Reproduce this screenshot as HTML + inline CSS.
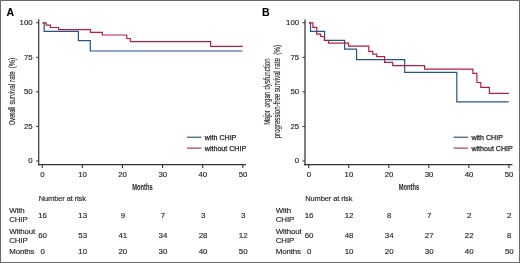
<!DOCTYPE html>
<html><head><meta charset="utf-8"><style>
html,body{margin:0;padding:0;background:#fff;}
svg{display:block;filter:blur(0.3px);}
text{font-family:"Liberation Sans",sans-serif;fill:#231f20;stroke:#231f20;stroke-width:0.15px;}
.tk{font-size:7.8px;}
.tb{font-size:7.9px;}
.tw{font-size:7.9px;letter-spacing:-0.12px;}
.lg{font-size:7.1px;stroke-width:0.25px;}
.ttl{font-size:9px;stroke-width:0.13px;}
.mo{font-size:9.6px;font-weight:bold;stroke-width:0.05px;}
.pl{font-size:10.5px;font-weight:bold;fill:#000;stroke:#000;stroke-width:0.1px;}
</style></head><body>
<svg width="520" height="263" viewBox="0 0 520 263">
<rect x="0.5" y="0.5" width="519" height="262" fill="#fff" stroke="#6a6a6a" stroke-width="1"/>
<text x="6.6" y="15.6" class="pl">A</text>
<text x="262.0" y="15.6" class="pl">B</text>
<path d="M38.7,19.2 V165.4" fill="none" stroke="#333333" stroke-width="1.2"/>
<path d="M38.1,164.7 H246" fill="none" stroke="#333333" stroke-width="1.2"/>
<path d="M36.1,22.75 H38.7" stroke="#333333" stroke-width="1"/>
<text x="32.60" y="25.25" class="tk" text-anchor="end">100</text>
<path d="M36.1,57.3 H38.7" stroke="#333333" stroke-width="1"/>
<text x="32.60" y="59.80" class="tk" text-anchor="end">75</text>
<path d="M36.1,91.85 H38.7" stroke="#333333" stroke-width="1"/>
<text x="32.60" y="94.35" class="tk" text-anchor="end">50</text>
<path d="M36.1,126.4 H38.7" stroke="#333333" stroke-width="1"/>
<text x="32.60" y="128.90" class="tk" text-anchor="end">25</text>
<path d="M36.1,160.95 H38.7" stroke="#333333" stroke-width="1"/>
<text x="32.60" y="163.45" class="tk" text-anchor="end">0</text>
<path d="M42.20,165 V167.9" stroke="#333333" stroke-width="1.1"/>
<text x="42.40" y="177.1" class="tk" text-anchor="middle">0</text>
<path d="M82.32,165 V167.9" stroke="#333333" stroke-width="1.1"/>
<text x="82.52" y="177.1" class="tk" text-anchor="middle">10</text>
<path d="M122.44,165 V167.9" stroke="#333333" stroke-width="1.1"/>
<text x="122.64" y="177.1" class="tk" text-anchor="middle">20</text>
<path d="M162.56,165 V167.9" stroke="#333333" stroke-width="1.1"/>
<text x="162.76" y="177.1" class="tk" text-anchor="middle">30</text>
<path d="M202.68,165 V167.9" stroke="#333333" stroke-width="1.1"/>
<text x="202.88" y="177.1" class="tk" text-anchor="middle">40</text>
<path d="M242.80,165 V167.9" stroke="#333333" stroke-width="1.1"/>
<text x="243.00" y="177.1" class="tk" text-anchor="middle">50</text>
<text x="142.5" y="189.6" class="mo" text-anchor="middle" textLength="20.4" lengthAdjust="spacingAndGlyphs">Months</text>
<path d="M42.7,22.8 H44.2 V31.3 H78.4 V40.6 H90.3 V51.0 H242.5" fill="none" stroke="#285585" stroke-width="1.2"/>
<path d="M42.7,22.8 H46.2 V25.2 H50.4 V27.5 H58.6 V29.7 H90.5 V32.3 H102.3 V35.0 H126.8 V38.5 H130.3 V41.7 H210.6 V46.3 H242.8" fill="none" stroke="#b41e42" stroke-width="1.2"/>
<path d="M187,137.2 H201.5" stroke="#1f3d5e" stroke-width="1.05"/>
<path d="M187,148.1 H201.5" stroke="#922846" stroke-width="1.05"/>
<text x="204.8" y="139.7" class="lg">with CHIP</text>
<text x="204.8" y="150.6" class="lg">without CHIP</text>
<text x="38.800000000000004" y="201.3" class="tw" textLength="47" lengthAdjust="spacingAndGlyphs">Number at risk</text>
<text x="9.2" y="213.2" class="tw">With</text>
<text x="9.2" y="222.1" class="tw">CHIP</text>
<text x="9.2" y="233.6" class="tw">Without</text>
<text x="9.2" y="242.8" class="tw">CHIP</text>
<text x="9.2" y="254" class="tw">Months</text>
<text x="42.60" y="217.5" class="tb" text-anchor="middle">16</text>
<text x="42.60" y="238.1" class="tb" text-anchor="middle">60</text>
<text x="42.60" y="254.3" class="tb" text-anchor="middle">0</text>
<text x="82.72" y="217.5" class="tb" text-anchor="middle">13</text>
<text x="82.72" y="238.1" class="tb" text-anchor="middle">53</text>
<text x="82.72" y="254.3" class="tb" text-anchor="middle">10</text>
<text x="122.84" y="217.5" class="tb" text-anchor="middle">9</text>
<text x="122.84" y="238.1" class="tb" text-anchor="middle">41</text>
<text x="122.84" y="254.3" class="tb" text-anchor="middle">20</text>
<text x="162.96" y="217.5" class="tb" text-anchor="middle">7</text>
<text x="162.96" y="238.1" class="tb" text-anchor="middle">34</text>
<text x="162.96" y="254.3" class="tb" text-anchor="middle">30</text>
<text x="203.08" y="217.5" class="tb" text-anchor="middle">3</text>
<text x="203.08" y="238.1" class="tb" text-anchor="middle">28</text>
<text x="203.08" y="254.3" class="tb" text-anchor="middle">40</text>
<text x="243.20" y="217.5" class="tb" text-anchor="middle">3</text>
<text x="243.20" y="238.1" class="tb" text-anchor="middle">12</text>
<text x="243.20" y="254.3" class="tb" text-anchor="middle">50</text>
<path d="M305,19.6 V165.4" fill="none" stroke="#333333" stroke-width="1.25"/>
<path d="M304.4,164.7 H512.4" fill="none" stroke="#333333" stroke-width="1.2"/>
<path d="M302.4,22.75 H305" stroke="#333333" stroke-width="1"/>
<text x="299.10" y="25.25" class="tk" text-anchor="end">100</text>
<path d="M302.4,57.3 H305" stroke="#333333" stroke-width="1"/>
<text x="299.10" y="59.80" class="tk" text-anchor="end">75</text>
<path d="M302.4,91.85 H305" stroke="#333333" stroke-width="1"/>
<text x="299.10" y="94.35" class="tk" text-anchor="end">50</text>
<path d="M302.4,126.4 H305" stroke="#333333" stroke-width="1"/>
<text x="299.10" y="128.90" class="tk" text-anchor="end">25</text>
<path d="M302.4,160.95 H305" stroke="#333333" stroke-width="1"/>
<text x="299.10" y="163.45" class="tk" text-anchor="end">0</text>
<path d="M308.70,165 V167.9" stroke="#333333" stroke-width="1.1"/>
<text x="308.90" y="177.1" class="tk" text-anchor="middle">0</text>
<path d="M348.74,165 V167.9" stroke="#333333" stroke-width="1.1"/>
<text x="348.94" y="177.1" class="tk" text-anchor="middle">10</text>
<path d="M388.78,165 V167.9" stroke="#333333" stroke-width="1.1"/>
<text x="388.98" y="177.1" class="tk" text-anchor="middle">20</text>
<path d="M428.82,165 V167.9" stroke="#333333" stroke-width="1.1"/>
<text x="429.02" y="177.1" class="tk" text-anchor="middle">30</text>
<path d="M468.86,165 V167.9" stroke="#333333" stroke-width="1.1"/>
<text x="469.06" y="177.1" class="tk" text-anchor="middle">40</text>
<path d="M508.90,165 V167.9" stroke="#333333" stroke-width="1.1"/>
<text x="509.10" y="177.1" class="tk" text-anchor="middle">50</text>
<text x="409.0" y="189.6" class="mo" text-anchor="middle" textLength="20.4" lengthAdjust="spacingAndGlyphs">Months</text>
<path d="M309,22.85 H310.5 V31.3 H324.6 V40.4 H344.6 V49.2 H356.6 V59.6 H404.7 V72.3 H456.8 V101.8 H508.7" fill="none" stroke="#285585" stroke-width="1.2"/>
<path d="M309,22.85 H312.9 V27.3 H316.7 V34.2 H320.7 V36.5 H324.3 V40.5 H328.6 V43.2 H348.5 V46.2 H368.8 V51.3 H372.8 V54.2 H376.7 V56.7 H384.6 V62.4 H392.7 V65.7 H424.6 V69.2 H472.9 V73.3 H476.9 V82.5 H480.8 V87.4 H489.4 V93.3 H508.9" fill="none" stroke="#b41e42" stroke-width="1.2"/>
<path d="M453.6,137.2 H468.1" stroke="#1f3d5e" stroke-width="1.05"/>
<path d="M453.6,148.1 H468.1" stroke="#922846" stroke-width="1.05"/>
<text x="471.40000000000003" y="139.7" class="lg">with CHIP</text>
<text x="471.40000000000003" y="150.6" class="lg">without CHIP</text>
<text x="305.3" y="201.3" class="tw" textLength="47" lengthAdjust="spacingAndGlyphs">Number at risk</text>
<text x="275.75" y="213.2" class="tw">With</text>
<text x="275.75" y="222.1" class="tw">CHIP</text>
<text x="275.75" y="233.6" class="tw">Without</text>
<text x="275.75" y="242.8" class="tw">CHIP</text>
<text x="275.75" y="254" class="tw">Months</text>
<text x="309.10" y="217.5" class="tb" text-anchor="middle">16</text>
<text x="309.10" y="238.1" class="tb" text-anchor="middle">60</text>
<text x="309.10" y="254.3" class="tb" text-anchor="middle">0</text>
<text x="349.14" y="217.5" class="tb" text-anchor="middle">12</text>
<text x="349.14" y="238.1" class="tb" text-anchor="middle">48</text>
<text x="349.14" y="254.3" class="tb" text-anchor="middle">10</text>
<text x="389.18" y="217.5" class="tb" text-anchor="middle">8</text>
<text x="389.18" y="238.1" class="tb" text-anchor="middle">34</text>
<text x="389.18" y="254.3" class="tb" text-anchor="middle">20</text>
<text x="429.22" y="217.5" class="tb" text-anchor="middle">7</text>
<text x="429.22" y="238.1" class="tb" text-anchor="middle">27</text>
<text x="429.22" y="254.3" class="tb" text-anchor="middle">30</text>
<text x="469.26" y="217.5" class="tb" text-anchor="middle">2</text>
<text x="469.26" y="238.1" class="tb" text-anchor="middle">22</text>
<text x="469.26" y="254.3" class="tb" text-anchor="middle">40</text>
<text x="509.30" y="217.5" class="tb" text-anchor="middle">2</text>
<text x="509.30" y="238.1" class="tb" text-anchor="middle">8</text>
<text x="509.30" y="254.3" class="tb" text-anchor="middle">50</text>
<text transform="translate(14.6,125.00) rotate(-90)" x="0" y="0" class="ttl" textLength="17.80" lengthAdjust="spacingAndGlyphs">Overall</text>
<text transform="translate(14.6,104.60) rotate(-90)" x="0" y="0" class="ttl" textLength="20.70" lengthAdjust="spacingAndGlyphs">survival</text>
<text transform="translate(14.6,81.90) rotate(-90)" x="0" y="0" class="ttl" textLength="10.70" lengthAdjust="spacingAndGlyphs">rate</text>
<text transform="translate(14.6,68.50) rotate(-90)" x="0" y="0" class="ttl" textLength="10.80" lengthAdjust="spacingAndGlyphs">(%)</text>
<text transform="translate(269.6,124.80) rotate(-90)" x="0" y="0" class="ttl" textLength="14.50" lengthAdjust="spacingAndGlyphs">Major</text>
<text transform="translate(269.6,107.40) rotate(-90)" x="0" y="0" class="ttl" textLength="15.60" lengthAdjust="spacingAndGlyphs">organ</text>
<text transform="translate(269.6,89.60) rotate(-90)" x="0" y="0" class="ttl" textLength="31.30" lengthAdjust="spacingAndGlyphs">dysfunction</text>
<text transform="translate(280.4,138.30) rotate(-90)" x="0" y="0" class="ttl" textLength="44.50" lengthAdjust="spacingAndGlyphs">progression-free</text>
<text transform="translate(280.4,92.00) rotate(-90)" x="0" y="0" class="ttl" textLength="21.00" lengthAdjust="spacingAndGlyphs">survival</text>
<text transform="translate(280.4,68.90) rotate(-90)" x="0" y="0" class="ttl" textLength="11.00" lengthAdjust="spacingAndGlyphs">rate</text>
<text transform="translate(280.4,54.80) rotate(-90)" x="0" y="0" class="ttl" textLength="9.90" lengthAdjust="spacingAndGlyphs">(%)</text>
</svg>
</body></html>
